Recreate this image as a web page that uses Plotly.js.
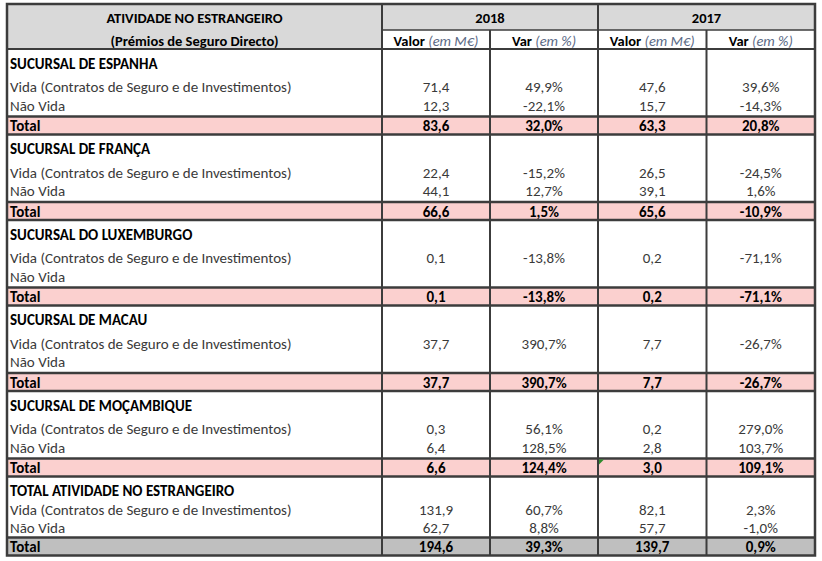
<!DOCTYPE html>
<html>
<head>
<meta charset="utf-8">
<script src="https://cdn.plot.ly/plotly-3.0.1.min.js"></script>
<style>html,body{margin:0;padding:0;background:#fff;}#chart{width:822px;height:561px;}</style>
</head>
<body>
<div id="chart"></div>
<script>
// ---------- DATA ----------
const headerTitle = ["ATIVIDADE NO ESTRANGEIRO", "(Prémios de Seguro Directo)"];
const years = ["2018", "2017"];
const colHeads = ["Valor", "Var"];
const colUnits = ["(em M€)", "(em %)"];
const sections = ["SUCURSAL DE ESPANHA", "SUCURSAL DE FRANÇA", "SUCURSAL DO LUXEMBURGO",
                  "SUCURSAL DE MACAU", "SUCURSAL DE MOÇAMBIQUE", "TOTAL ATIVIDADE NO ESTRANGEIRO"];
const rowLabels = ["Vida (Contratos de Seguro e de Investimentos)", "Não Vida", "Total"];

const vida2018Valor = [71.4, 22.4, 0.1, 37.7, 0.3, 131.9];
const vida2018Var   = [49.9, -15.2, -13.8, 390.7, 56.1, 60.7];
const vida2017Valor = [47.6, 26.5, 0.2, 7.7, 0.2, 82.1];
const vida2017Var   = [39.6, -24.5, -71.1, -26.7, 279.0, 2.3];

const naoVida2018Valor = [12.3, 44.1, null, null, 6.4, 62.7];
const naoVida2018Var   = [-22.1, 12.7, null, null, 128.5, 8.8];
const naoVida2017Valor = [15.7, 39.1, null, null, 2.8, 57.7];
const naoVida2017Var   = [-14.3, 1.6, null, null, 103.7, -1.0];

const total2018Valor = [83.6, 66.6, 0.1, 37.7, 6.6, 194.6];
const total2018Var   = [32.0, 1.5, -13.8, 390.7, 124.4, 39.3];
const total2017Valor = [63.3, 65.6, 0.2, 7.7, 3.0, 139.7];
const total2017Var   = [20.8, -10.9, -71.1, -26.7, 109.1, 0.9];

// ---------- LAYOUT GEOMETRY (styles) ----------
const colEdges = [7, 382, 490, 598, 706.5, 815];
const tableTop = 4;
const headH = [26, 19];
const titleH = [29, 29, 29, 29, 29, 24];
const vidaH = [18, 18, 18, 18, 18, 18];
const nvH = [20.5, 20.5, 20.5, 20.5, 20.5, 19];
const totH = [18, 18, 18, 18, 18, 18];
const TXT_DY = 1.5;

const FONT = "Carlito, Calibri, Lato, 'Open Sans', sans-serif";
const BODY = "#3a3a3a";
const LINE = "#3c3c3c";
const PINK = "#fbd0cf";
const GRAYH = "#d9d9d9";
const GRAYT = "#bfbfbf";

function fmtNum(v) { return v == null ? "" : v.toFixed(1).replace(".", ","); }
function fmtPct(v) { return v == null ? "" : v.toFixed(1).replace(".", ",") + "%"; }
const colCenter = i => (colEdges[i] + colEdges[i + 1]) / 2;

// compute rows
const headBottom1 = tableTop + headH[0];
const headBottom = headBottom1 + headH[1];
let y = headBottom;
const secGeo = [];
for (let s = 0; s < sections.length; s++) {
  const g = {};
  g.titleTop = y; y += titleH[s];
  g.vidaTop = y; y += vidaH[s];
  g.nvTop = y; y += nvH[s];
  g.totTop = y; y += totH[s];
  g.totBot = y;
  secGeo.push(g);
}
const tableBottom = y;

// ---------- TEXT TRACES ----------
const leftX = [], leftY = [], leftT = [], leftC = [];
const cX = [], cY = [], cT = [], cC = [];

const valCols = [
  [vida2018Valor, naoVida2018Valor, total2018Valor, fmtNum],
  [vida2018Var, naoVida2018Var, total2018Var, fmtPct],
  [vida2017Valor, naoVida2017Valor, total2017Valor, fmtNum],
  [vida2017Var, naoVida2017Var, total2017Var, fmtPct]
];

sections.forEach((name, s) => {
  const g = secGeo[s];
  const yT = g.titleTop + 14.5 + TXT_DY;
  const yV = g.vidaTop + vidaH[s] / 2 + TXT_DY;
  const yN = g.nvTop + 9.5 + TXT_DY;
  const yS = g.totTop + totH[s] / 2 + 0.5 + TXT_DY;
  leftX.push(colEdges[0] + 3); leftY.push(yT); leftT.push("<b>" + name + "</b>"); leftC.push("#000");
  leftX.push(colEdges[0] + 3); leftY.push(yV); leftT.push(rowLabels[0]); leftC.push(BODY);
  leftX.push(colEdges[0] + 3); leftY.push(yN); leftT.push(rowLabels[1]); leftC.push(BODY);
  leftX.push(colEdges[0] + 3); leftY.push(yS); leftT.push("<b>" + rowLabels[2] + "</b>"); leftC.push("#000");
  valCols.forEach((vc, c) => {
    const x = colCenter(c + 1);
    cX.push(x); cY.push(yV); cT.push(vc[3](vc[0][s])); cC.push(BODY);
    cX.push(x); cY.push(yN); cT.push(vc[3](vc[1][s])); cC.push(BODY);
    cX.push(x); cY.push(yS); cT.push("<b>" + vc[3](vc[2][s]) + "</b>"); cC.push("#000");
  });
});

// header texts
const hX = [], hY = [], hT = [];
const yH1 = tableTop + headH[0] / 2 + 0.5 + TXT_DY;
const yH2 = headBottom1 + headH[1] / 2 + 1 + TXT_DY;
hX.push(colCenter(0)); hY.push(yH1); hT.push("<b>" + headerTitle[0] + "</b>");
hX.push(colCenter(0)); hY.push(yH2); hT.push("<b>" + headerTitle[1] + "</b>");
hX.push((colEdges[1] + colEdges[3]) / 2); hY.push(yH1); hT.push("<b>" + years[0] + "</b>");
hX.push((colEdges[3] + colEdges[5]) / 2); hY.push(yH1); hT.push("<b>" + years[1] + "</b>");
for (let c = 0; c < 4; c++) {
  hX.push(colCenter(c + 1)); hY.push(yH2);
  hT.push("<b>" + colHeads[c % 2] + "</b> <i><span style='color:#5b6a86'>" + colUnits[c % 2] + "</span></i>");
}

const traces = [
  {type: "scatter", mode: "text", x: leftX, y: leftY, text: leftT, textposition: "middle right",
   textfont: {family: FONT, size: 15, color: leftC}, hoverinfo: "skip", cliponaxis: false},
  {type: "scatter", mode: "text", x: cX, y: cY, text: cT, textposition: "middle center",
   textfont: {family: FONT, size: 15, color: cC}, hoverinfo: "skip", cliponaxis: false},
  {type: "scatter", mode: "text", x: hX, y: hY, text: hT, textposition: "middle center",
   textfont: {family: FONT, size: 14.5, color: "#000"}, hoverinfo: "skip", cliponaxis: false}
];

// ---------- SHAPES ----------
const shapes = [];
function rect(x0, y0, x1, y1, fill) {
  shapes.push({type: "rect", xref: "x", yref: "y", x0, y0, x1, y1, fillcolor: fill, line: {width: 0}, layer: "below"});
}
function line(x0, y0, x1, y1, w) {
  shapes.push({type: "line", xref: "x", yref: "y", x0, y0, x1, y1, line: {color: LINE, width: w || 2}, layer: "above"});
}
rect(colEdges[0], tableTop, colEdges[1], headBottom, GRAYH);
rect(colEdges[1], tableTop, colEdges[5], headBottom1, GRAYH);
secGeo.forEach((g, s) => {
  rect(colEdges[0], g.totTop, colEdges[5], g.totBot, s === secGeo.length - 1 ? GRAYT : PINK);
});
// lines
line(colEdges[1], headBottom1, colEdges[5], headBottom1, 1.5);
line(colEdges[0], headBottom, colEdges[5], headBottom, 2);
secGeo.forEach(g => {
  line(colEdges[0], g.totTop, colEdges[5], g.totTop, 2.5);
  if (g.totBot < tableBottom - 0.1) line(colEdges[0], g.totBot, colEdges[5], g.totBot, 2.5);
});
line(colEdges[1], tableTop, colEdges[1], tableBottom, 2);
line(colEdges[3], tableTop, colEdges[3], tableBottom, 2);
line(colEdges[2], headBottom1, colEdges[2], tableBottom, 2);
line(colEdges[4], headBottom1, colEdges[4], tableBottom, 2);
shapes.push({type: "rect", xref: "x", yref: "y", x0: colEdges[0], y0: tableTop, x1: colEdges[5], y1: tableBottom,
             fillcolor: "rgba(0,0,0,0)", line: {color: LINE, width: 2.5}, layer: "above"});
// excel green indicator in last pink total row
const gI = secGeo[4];
shapes.push({type: "path", xref: "x", yref: "y",
  path: `M ${colEdges[3]+1} ${gI.totTop+1} L ${colEdges[3]+6} ${gI.totTop+1} L ${colEdges[3]+1} ${gI.totTop+6} Z`,
  fillcolor: "#2e8b2e", line: {width: 0}, layer: "above"});

const layout = {
  width: 822, height: 561,
  margin: {l: 0, r: 0, t: 0, b: 0, pad: 0},
  paper_bgcolor: "#ffffff", plot_bgcolor: "#ffffff",
  showlegend: false,
  xaxis: {range: [0, 822], visible: false, fixedrange: true},
  yaxis: {range: [561, 0], visible: false, fixedrange: true},
  shapes: shapes,
  font: {family: FONT}
};

Plotly.newPlot("chart", traces, layout, {displayModeBar: false, staticPlot: true});
</script>
</body>
</html>
